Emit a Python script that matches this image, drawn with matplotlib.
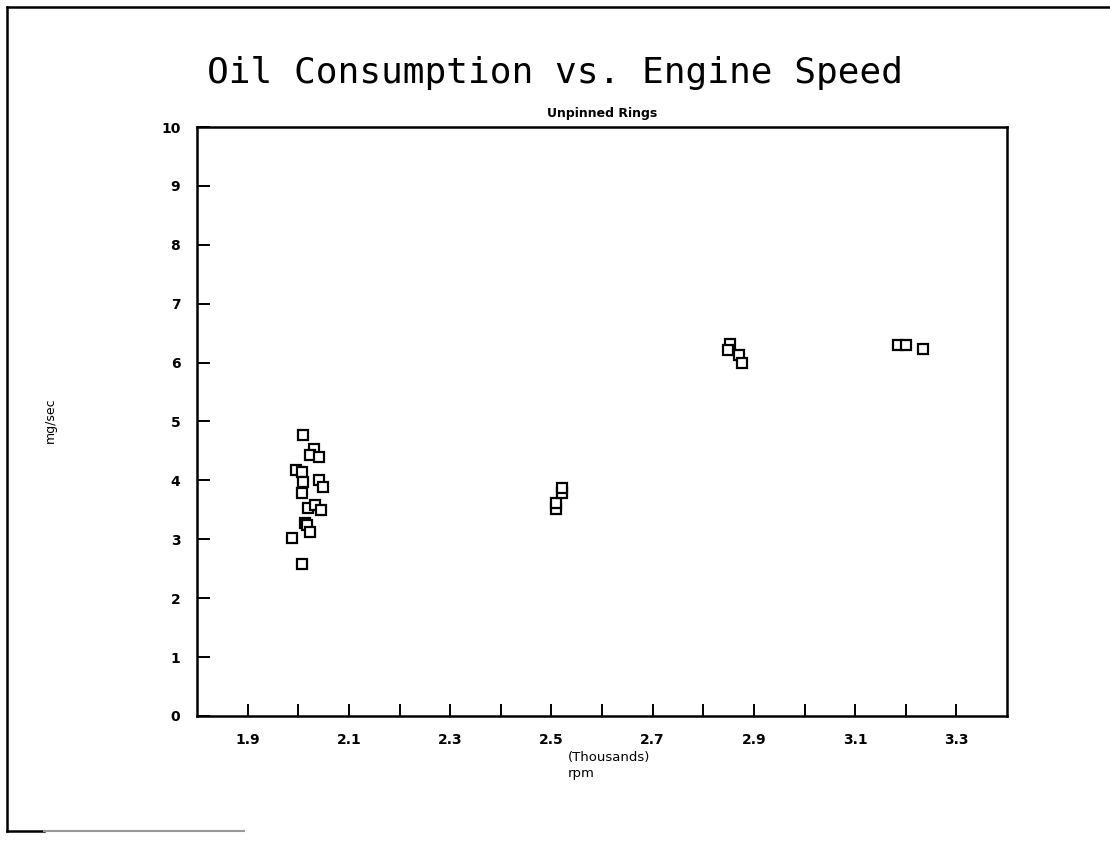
import numpy as np
import matplotlib.pyplot as plt
from matplotlib.lines import Line2D

# engine speed (thousands rpm) and oil consumption (mg/sec)
rpm = [2.010, 2.032, 2.023, 2.040, 1.995, 2.008, 2.010, 2.040, 2.048, 2.007,
       2.019, 2.034, 2.044, 2.014, 2.018, 2.024, 1.988, 2.007,
       2.510, 2.510, 2.520, 2.520,
       2.853, 2.849, 2.871, 2.877,
       3.184, 3.200, 3.235]
oil = [4.77, 4.53, 4.43, 4.40, 4.17, 4.15, 3.97, 4.01, 3.89, 3.79,
       3.53, 3.58, 3.50, 3.27, 3.24, 3.13, 3.03, 2.58,
       3.52, 3.62, 3.78, 3.87,
       6.32, 6.21, 6.13, 5.99,
       6.30, 6.30, 6.23]

x_ticks = np.round(np.arange(1.9, 3.35, 0.1), 1)
x_labels = [f"{t:.1f}" if i % 2 == 0 else "" for i, t in enumerate(x_ticks)]
y_ticks = list(range(0, 11))

fig = plt.figure(figsize=(11.1, 8.44), dpi=100)
ax = fig.add_axes([0.1775, 0.1517, 0.7297, 0.6978])

ax.plot(rpm, oil, linestyle="none", marker="s", ms=7.8, mfc="white",
        mec="black", mew=1.6)

ax.set_xlim(1.8, 3.4)
ax.set_ylim(0, 10)
ax.set_xticks(x_ticks)
ax.set_xticklabels(x_labels)
ax.set_yticks(y_ticks)
ax.tick_params(direction="in", length=9, width=1.4, labelsize=10, color="black")
ax.tick_params(axis="x", pad=12, top=False)
ax.tick_params(axis="y", pad=12, right=False)
for lab in ax.get_xticklabels() + ax.get_yticklabels():
    lab.set_fontweight("bold")
for s in ax.spines.values():
    s.set_linewidth(1.8)

fig.text(0.5, 0.914, "Oil Consumption vs. Engine Speed", ha="center",
         va="center", fontsize=26, family="DejaVu Sans Mono")
ax.set_title("Unpinned Rings", fontsize=9, fontweight="bold", pad=7)
fig.text(0.045, 0.502, "mg/sec", rotation=90, ha="center", va="center",
         fontsize=9)
fig.text(0.549, 0.103, "(Thousands)", ha="center", va="center", fontsize=9.5)
fig.text(0.524, 0.084, "rpm", ha="center", va="center", fontsize=9.5)

# outer page frame
fig.add_artist(Line2D([0.006, 1.0], [0.992, 0.992], color="black", lw=1.8,
                      transform=fig.transFigure))
fig.add_artist(Line2D([0.006, 0.006], [0.992, 0.015], color="black", lw=1.8,
                      transform=fig.transFigure))
fig.add_artist(Line2D([0.006, 0.04], [0.015, 0.015], color="black", lw=1.8,
                      transform=fig.transFigure))
fig.add_artist(Line2D([0.04, 0.22], [0.015, 0.015], color="0.6", lw=1.5,
                      transform=fig.transFigure))

fig.savefig("out.png", dpi=100)
